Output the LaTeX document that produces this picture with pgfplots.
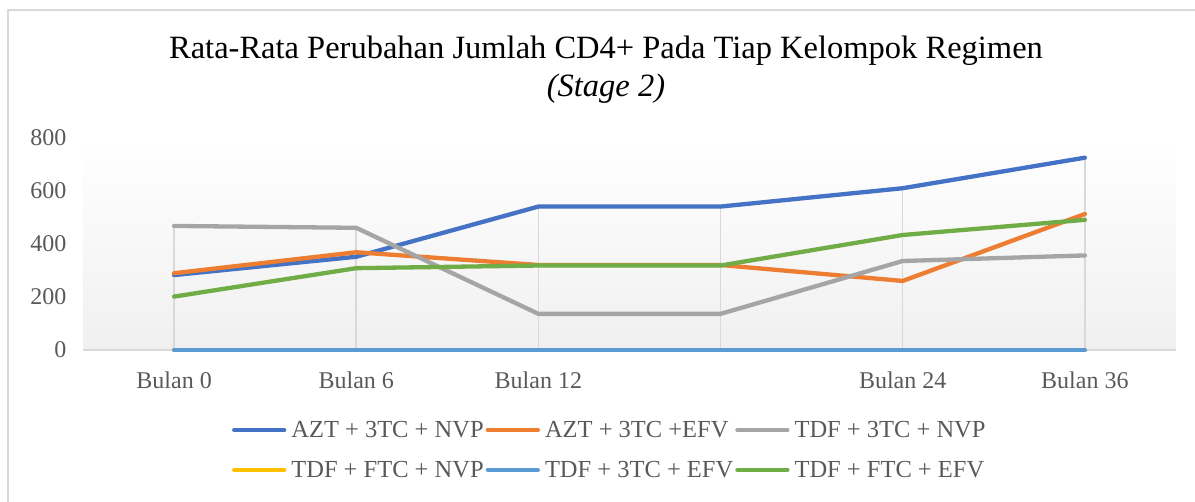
\documentclass[border=0pt]{standalone}
\usepackage{pgfplots}
\usepackage{pgfplotstable}
\pgfplotsset{compat=1.18}
\usepackage{fontspec}
\setmainfont{Liberation Serif}
\definecolor{cA}{HTML}{4472C4}
\definecolor{cB}{HTML}{ED7D31}
\definecolor{cC}{HTML}{A5A5A5}
\definecolor{cD}{HTML}{FFC000}
\definecolor{cE}{HTML}{5B9BD5}
\definecolor{cF}{HTML}{70AD47}
\definecolor{gridc}{HTML}{D9D9D9}
\definecolor{txtc}{HTML}{595959}
\definecolor{bgc}{HTML}{F0F0F0}

\pgfplotstableread{
x  azt3nvp azt3efv tdf3nvp tdfftcnvp tdf3efv tdfftcefv dropmax
0  282     289     467     0         0       201       467
1  351     368     460     0         0       308       460
2  540     320     136     0         0       318       540
3  540     320     136     0         0       318       540
4  609     260     335     0         0       433       609
5  724     512     356     0         0       490       724
}\datatable

\begin{document}
\begin{tikzpicture}[x=1pt,y=1pt]
\useasboundingbox (0,0) rectangle (1195,502);
\draw[color=gridc, line width=2pt] (7.5,-5) -- (7.5,491.5) -- (1200,491.5);
\node[font=\fontsize{32.5}{38}\selectfont, text=black] at (606,451) {Rata-Rata Perubahan Jumlah CD4+ Pada Tiap Kelompok Regimen};
\node[font=\fontsize{32.5}{38}\selectfont\itshape, text=black] at (606,413) {(Stage 2)};
\begin{axis}[
  at={(83pt,152pt)}, anchor=south west,
  scale only axis, width=1093pt, height=212.5pt,
  xmin=-0.5, xmax=5.5, ymin=0, ymax=800,
  axis x line*=bottom, axis y line*=left,
  x axis line style={draw=gridc, line width=1.5pt},
  y axis line style={draw=none},
  axis background/.style={top color=white, bottom color=bgc},
  xtick={0,1,2,3,4,5},
  xticklabels={Bulan 0,Bulan 6,Bulan 12,{},Bulan 24,Bulan 36},
  ytick={0,200,400,600,800},
  major tick length=0pt,
  tick style={draw=none},
  /pgf/number format/assume math mode=true,
  tick label style={font=\fontsize{24}{28}\selectfont, text=txtc},
  y tick label style={xshift=-13pt},
  x tick label style={yshift=-18pt},
  clip=false,
  legend columns=3,
  legend style={
    at={(0.482,-0.47)}, anchor=center,
    draw=none, fill=none,
    font=\fontsize{24.5}{28}\selectfont, text=txtc,
    row sep=18pt,
    /tikz/every even column/.append style={column sep=0pt},
    /tikz/every odd column/.append style={column sep=3pt},
    cells={anchor=west},
  },
  legend image code/.code={\draw[#1, line cap=round] (0pt,0pt) -- (50pt,0pt);},
  every axis plot/.append style={line width=4.3pt, no marks, line cap=round, line join=round},
]
\addplot[gridc, line width=1.5pt, ycomb, forget plot] table[x=x, y=dropmax] {\datatable};
\addplot[cA] table[x=x, y=azt3nvp] {\datatable};
\addlegendentry{AZT + 3TC + NVP}
\addplot[cB] table[x=x, y=azt3efv] {\datatable};
\addlegendentry{AZT + 3TC +EFV}
\addplot[cC] table[x=x, y=tdf3nvp] {\datatable};
\addlegendentry{TDF + 3TC + NVP}
\addplot[cD] table[x=x, y=tdfftcnvp] {\datatable};
\addlegendentry{TDF + FTC + NVP}
\addplot[cE] table[x=x, y=tdf3efv] {\datatable};
\addlegendentry{TDF + 3TC + EFV}
\addplot[cF] table[x=x, y=tdfftcefv] {\datatable};
\addlegendentry{TDF + FTC + EFV}
\end{axis}
\end{tikzpicture}
\end{document}
